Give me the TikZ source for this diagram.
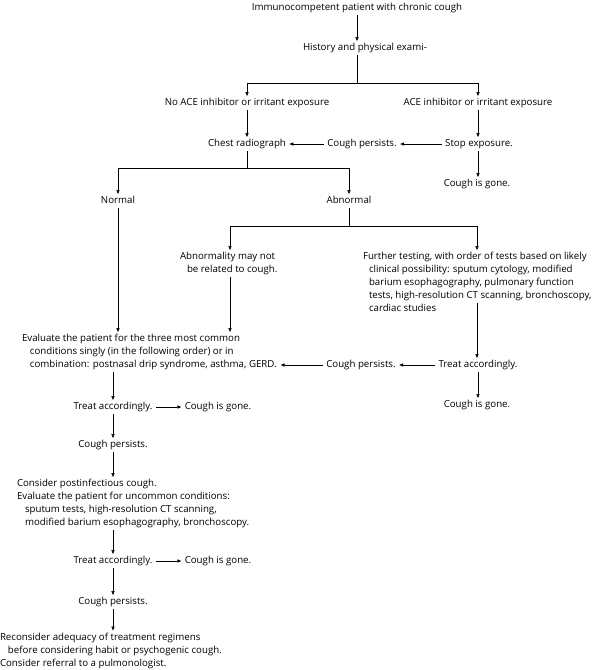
\documentclass[tikz,border=0pt]{standalone}
\usepackage{fontspec}
\setmainfont{Open Sans}
\usetikzlibrary{arrows.meta}
\begin{document}
\begin{tikzpicture}[x=1pt,y=-1pt,
 txt/.style={inner sep=0pt, outer xsep=3.5pt, outer ysep=2pt, text height=7.5pt, text depth=2.5pt, anchor=base, font=\fontsize{9.7}{12}\selectfont},
 ltxt/.style={txt, anchor=base west, outer xsep=0pt},
 arr/.style={draw, line width=0.55pt, -{Triangle[length=4pt,width=3.2pt]}},
 ln/.style={draw, line width=0.55pt}]
\useasboundingbox (0,0) rectangle (601,670);
\node[txt] (title) at (357,10.5) {Immunocompetent patient with chronic cough};
\node[txt] (hist) at (365,50.5) {History and physical exami-};
\node[txt] (noace) at (247,105.5) {No ACE inhibitor or irritant exposure};
\node[txt] (ace) at (478,105.5) {ACE inhibitor or irritant exposure};
\node[txt] (chest) at (247,146.5) {Chest radiograph};
\node[txt] (cp1) at (362,146.5) {Cough persists.};
\node[txt] (stop) at (479,146.5) {Stop exposure.};
\node[txt] (gone1) at (477,186.5) {Cough is gone.};
\node[txt] (normal) at (118,203.5) {Normal};
\node[txt] (abnormal) at (349,203.5) {Abnormal};
\node[ltxt] (abn1) at (180,259.5) {Abnormality may not};
\node[ltxt] (abn2) at (187,272.5) {be related to cough.};
\node[ltxt] (ft1) at (363,259.5) {Further testing, with order of tests based on likely};
\node[ltxt] (ft2) at (369,272.5) {clinical possibility: sputum cytology, modified};
\node[ltxt] (ft3) at (369,285.5) {barium esophagography, pulmonary function};
\node[ltxt] (ft4) at (369,298.5) {tests, high-resolution CT scanning, bronchoscopy,};
\node[ltxt] (ft5) at (369,311.5) {cardiac studies};
\node[ltxt] (ev1) at (22,341.5) {Evaluate the patient for the three most common};
\node[ltxt] (ev2) at (30,354.5) {conditions singly (in the following order) or in};
\node[ltxt] (ev3) at (30,367.5) {combination: postnasal drip syndrome, asthma, GERD.};
\node[txt] (cp2) at (361,367.5) {Cough persists.};
\node[txt] (treat1) at (478,367.5) {Treat accordingly.};
\node[txt] (gone2) at (477,407.5) {Cough is gone.};
\node[txt] (treat2) at (113,409.5) {Treat accordingly.};
\node[txt] (gone3) at (218,409.5) {Cough is gone.};
\node[txt] (cp3) at (113,447.5) {Cough persists.};
\node[ltxt] (con1) at (17,486.5) {Consider postinfectious cough.};
\node[ltxt] (con2) at (17,499.5) {Evaluate the patient for uncommon conditions:};
\node[ltxt] (con3) at (25,512.5) {sputum tests, high-resolution CT scanning,};
\node[ltxt] (con4) at (25,525.5) {modified barium esophagography, bronchoscopy.};
\node[txt] (treat3) at (113,563.5) {Treat accordingly.};
\node[txt] (gone4) at (218,563.5) {Cough is gone.};
\node[txt] (cp4) at (113,604.5) {Cough persists.};
\node[ltxt] (rec1) at (0,640) {Reconsider adequacy of treatment regimens};
\node[ltxt] (rec2) at (8,653) {before considering habit or psychogenic cough.};
\node[ltxt] (rec3) at (0,666) {Consider referral to a pulmonologist.};
% connectors
\coordinate (j1) at (357,83);
\draw[arr] (title.south) -- (title.south |- hist.north);
\draw[ln] (title.south |- hist.south) -- (j1);
\draw[arr] (j1) -| (noace.north);
\draw[arr] (j1) -| (ace.north);
\draw[arr] (noace.south) -- (chest.north);
\draw[arr] (ace.south) -- (ace.south |- stop.north);
\draw[arr] (stop.west) -- (cp1.east);
\draw[arr] (cp1.west) -- (chest.east);
\draw[arr] (ace.south |- stop.south) -- (ace.south |- gone1.north);
\coordinate (j2) at (247,168);
\draw[ln] (chest.south) -- (j2);
\draw[arr] (j2) -| (normal.north);
\draw[arr] (j2) -| (abnormal.north);
\coordinate (j3) at (349,226);
\coordinate (c3l) at (230,226);
\coordinate (c3r) at (477,226);
\draw[ln] (abnormal.south) -- (j3);
\draw[arr] (j3) -- (c3l) -- (c3l |- abn1.north);
\draw[arr] (j3) -- (c3r) -- (c3r |- ft1.north);
\draw[arr] (normal.south) -- (normal.south |- ev1.north);
\draw[arr] (c3l |- abn2.south) -- (c3l |- ev1.north);
\draw[arr] (c3r |- ft4.south) -- (c3r |- treat1.north);
\draw[arr] (treat1.west) -- (cp2.east);
\draw[arr] (cp2.west) -- ([xshift=4pt]ev3.east);
\draw[arr] (treat1.south) -- (treat1.south |- gone2.north);
\draw[arr] (treat2.north |- ev3.south) -- (treat2.north);
\draw[arr] (treat2.east) -- (gone3.west);
\draw[arr] (treat2.south) -- (cp3.north);
\draw[arr] (cp3.south) -- (cp3.south |- con1.north);
\draw[arr] (treat3.north |- con4.south) -- (treat3.north);
\draw[arr] (treat3.east) -- (gone4.west);
\draw[arr] (treat3.south) -- (cp4.north);
\draw[arr] (cp4.south) -- (cp4.south |- rec1.north);
\end{tikzpicture}
\end{document}
